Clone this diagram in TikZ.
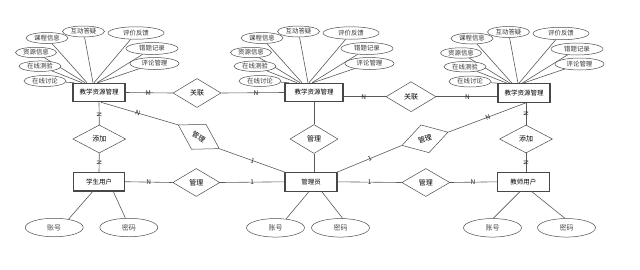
\documentclass[tikz,border=0pt]{standalone}
\usepackage{fontspec}
\setmainfont{Noto Sans CJK SC}
\usetikzlibrary{shapes.geometric,calc}
\begin{document}
\begin{tikzpicture}[x=1pt,y=-1pt,
  ent/.style={draw=black!72, line width=1.1pt, fill=white, minimum height=18.5pt, inner sep=0pt, font=\fontsize{6.5}{7}\selectfont},
  attr/.style={ellipse, draw=black!70, line width=0.5pt, fill=white, inner sep=0pt, font=\fontsize{6.4}{7}\selectfont, text=black!80},
  battr/.style={ellipse, draw=black!70, line width=0.5pt, fill=white, inner sep=0pt, minimum width=58pt, minimum height=18.5pt, font=\fontsize{7}{8}\selectfont, text=black!70},
  rel/.style={diamond, draw=black!70, line width=0.5pt, fill=white, inner sep=0pt, minimum width=48pt, minimum height=29pt, font=\fontsize{7}{8}\selectfont},
  ln/.style={draw=black!65, line width=0.6pt},
  lbl/.style={font=\fontsize{6.5}{7}\selectfont, inner sep=0pt, text=black!85}
]
\useasboundingbox (0,0) rectangle (640,269);

% entities
\node[ent, minimum width=52pt] (E1) at (99,92.5) {教学资源管理};
\node[ent, minimum width=58pt] (E2) at (314,92.5) {教学资源管理};
\node[ent, minimum width=52pt] (E3) at (524,93) {教学资源管理};
\node[ent, minimum width=51pt] (S) at (99,181.7) {学生用户};
\node[ent, minimum width=52pt] (A) at (311,181.8) {管理员};
\node[ent, minimum width=52pt] (T) at (523.3,181.8) {教师用户};

% relationships
\node[rel] (R1) at (197,93) {关联};
\node[rel, minimum width=50pt, minimum height=30pt] (R2) at (411,96.7) {关联};
\node[rel, minimum width=53pt, minimum height=28pt] (AddL) at (99.3,139) {添加};
\node[rel, minimum width=53pt, minimum height=28pt] (AddR) at (526,139) {添加};
\node[rel] (MgC) at (314,139) {管理};
\node[rel, minimum width=47pt, minimum height=28pt] (MgL) at (196.3,182.5) {管理};
\node[rel, minimum width=48pt, minimum height=28pt] (MgR) at (425.8,182.5) {管理};
\node[rel, rotate=-30, minimum width=47.5pt, minimum height=29pt] (DL) at (198.8,136.8) {管理};
\node[rel, rotate=16, minimum width=48pt, minimum height=29pt] (DR) at (425,138.8) {管理};

% attributes of the three top entities
\foreach \E/\p in {E1/a,E2/b,E3/c}{
  \foreach \t/\dx/\dy/\w/\h/\ex [count=\i] in {
    课程信息/-52/-54.5/42/11/-12,
    互动答疑/-15.5/-61/42/11/-6,
    评价反馈/37/-59.5/56/12.5/-5,
    错题记录/53/-44/52/12/-2,
    评论管理/55.5/-29/49/12/-1,
    资源信息/-63/-40/41/10.5/-14,
    在线测验/-59/-26.3/42/10.5/-17,
    在线讨论/-54/-11.5/42/11/-25}{
    \node[attr, minimum width=\w pt, minimum height=\h pt] (\p\i) at ($(\E)+(\dx,\dy)$) {\t};
    \draw[ln] (\p\i) -- ([xshift=\ex pt]\E.north);
  }
}

% bottom attributes
\node[battr] (S1) at (54.2,227.5) {账号};
\node[battr] (S2) at (128.8,227.5) {密码};
\node[battr] (A1) at (275.5,227.8) {账号};
\node[battr] (A2) at (340.5,227.8) {密码};
\node[battr] (T1) at (492.5,227.8) {账号};
\node[battr] (T2) at (566.5,227.8) {密码};
\draw[ln] ([xshift=-6.3pt]S.south) -- (S1.30);
\draw[ln] ([xshift=14.3pt]S.south) -- (S2.110);
\draw[ln] ([xshift=-2pt]A.south) -- (A1.40);
\draw[ln] ([xshift=10.7pt]A.south) -- (A2.77);
\draw[ln] ([xshift=-3.3pt]T.south) -- (T1.85);
\draw[ln] ([xshift=8.4pt]T.south) -- (T2.99);

% relationship connectors
\draw[ln] (E1.east) -- node[lbl, pos=0.48] {M} (R1.west);
\draw[ln] (R1.east) -- node[lbl, pos=0.55] {N} (E2.west);
\draw[ln] ([yshift=-4.2pt]E2.east) -- node[lbl, pos=0.48] {N} (R2.west);
\draw[ln] (R2.east) -- node[lbl, pos=0.51] {N} ([yshift=-3.7pt]E3.west);
\draw[ln] (E1.south) -- node[lbl, pos=0.57, rotate=-90] {N} (AddL.north);
\draw[ln] (AddL.south) -- node[lbl, pos=0.52, rotate=-90] {N} (S.north);
\draw[ln] ([xshift=2pt]E3.south) -- node[lbl, pos=0.5, rotate=-90] {N} (AddR.north);
\draw[ln] (AddR.south) -- node[lbl, pos=0.52, rotate=-90] {N} ([xshift=2.7pt]T.north);
\draw[ln] (E2.south) -- (MgC.north);
\draw[ln] (MgC.south) -- ([xshift=3pt]A.north);
\draw[ln] (S.east) -- node[lbl, pos=0.5] {N} (MgL.west);
\draw[ln] (MgL.east) -- node[lbl, pos=0.5] {1} (A.west);
\draw[ln] (A.east) -- node[lbl, pos=0.5] {1} (MgR.west);
\draw[ln] (MgR.east) -- node[lbl, pos=0.49] {N} (T.west);
\draw[ln] ([xshift=2pt]E1.south) -- node[lbl, pos=0.48, rotate=-18] {N} (DL.west);
\draw[ln] (DL.east) -- node[lbl, pos=0.51, rotate=-20] {1} (A.north west);
\draw[ln] (A.north east) -- node[lbl, pos=0.5, rotate=22] {1} (DR.west);
\draw[ln] (DR.east) -- node[lbl, pos=0.51, rotate=22] {N} ([xshift=2pt]E3.south);
\end{tikzpicture}
\end{document}
